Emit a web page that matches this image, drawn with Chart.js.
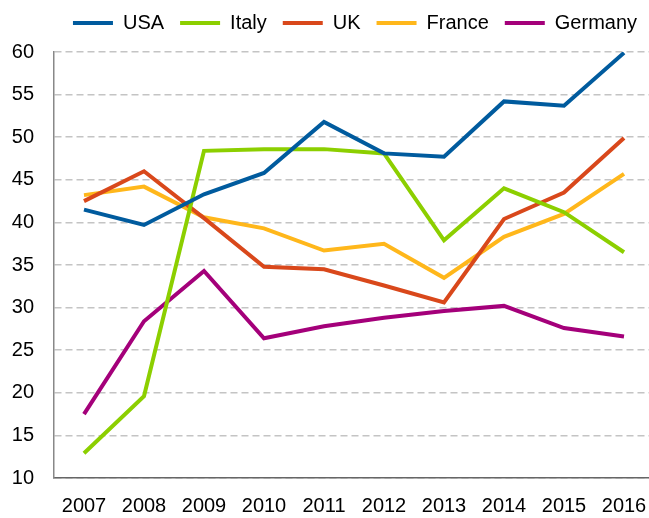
<!DOCTYPE html>
<html>
<head>
<meta charset="utf-8">
<script src="https://cdn.jsdelivr.net/npm/chart.js@4.4.1/dist/chart.umd.min.js"></script>
<style>
  html, body { margin: 0; padding: 0; background: #fff; overflow: hidden; }
  #wrap { position: absolute; left: 0; top: 0; width: 654px; height: 518px; }
</style>
</head>
<body>
<div id="wrap"><canvas id="chart"></canvas></div>
<script>
// data
const years = ['2007', '2008', '2009', '2010', '2011', '2012', '2013', '2014', '2015', '2016'];
const usa     = [41.5, 39.7, 43.3, 45.8, 51.8, 48.1, 47.7, 54.2, 53.7, 59.9];
const italy   = [12.9, 19.6, 48.4, 48.6, 48.6, 48.1, 37.9, 44.0, 41.2, 36.5];
const uk      = [42.5, 46.0, 40.5, 34.8, 34.5, 32.6, 30.6, 40.4, 43.5, 49.9];
const france  = [43.2, 44.2, 40.6, 39.3, 36.7, 37.5, 33.5, 38.3, 41.0, 45.7];
const germany = [17.5, 28.4, 34.3, 26.4, 27.8, 28.8, 29.6, 30.2, 27.6, 26.6];
const yTicks  = [10, 15, 20, 25, 30, 35, 40, 45, 50, 55, 60];

const FONT = "'Liberation Sans', Arial, sans-serif";

function line(label, data, color) {
    return {
        label: label,
        data: data,
        borderColor: color,
        backgroundColor: color,
        borderWidth: 4,
        pointRadius: 0,
        tension: 0,
        fill: false
    }
}

// fixed legend height and a small nudge so it sits where the original one is
const legendShift = {
    id: 'legendShift',
    beforeInit(chart) {
        const fit = chart.legend.fit;
        chart.legend.fit = function () {
            fit.bind(chart.legend)();
            this.height = 52;
        }
    },
    afterLayout(chart) {
        chart.legend.left += 28;
        chart.legend.right += 28;
        chart.legend.top -= 3;
        chart.legend.bottom -= 3;
    }
}

new Chart(document.getElementById('chart'), {
    type: 'line',
    data: {
        labels: years,
        datasets: [
            line('USA', usa, '#005b9e'),
            line('Italy', italy, '#8ccf00'),
            line('UK', uk, '#d9481b'),
            line('France', france, '#ffb71b'),
            line('Germany', germany, '#a4007a')
        ]
    },
    options: {
        responsive: true,
        maintainAspectRatio: false,
        animation: false,
        layout: { padding: 0 },
        plugins: {
            legend: {
                display: true,
                position: 'top',
                labels: {
                    boxWidth: 40,
                    boxHeight: 4,
                    padding: 16,
                    color: '#000',
                    font: { family: FONT, size: 20 },
                    generateLabels(chart) {
                        return Chart.defaults.plugins.legend.labels.generateLabels(chart)
                            .map(l => Object.assign(l, { lineWidth: 0 }));
                    }
                }
            },
            tooltip: { enabled: false }
        },
        scales: {
            x: {
                offset: true,
                grid: { display: false, drawTicks: false },
                border: { display: true, color: '#666', width: 1.5 },
                ticks: { color: '#000', padding: 16, font: { family: FONT, size: 20 } },
                afterFit(scale) {
                    scale.height = 40;
                    scale.paddingLeft = 0;
                    scale.paddingRight = 0;
                }
            },
            y: {
                min: 10,
                max: 60,
                afterBuildTicks(scale) { scale.ticks = yTicks.map(v => ({ value: v })); },
                grid: { color: '#c4c4c4', lineWidth: 1.5, drawTicks: false },
                border: { display: true, color: '#888', width: 1.5, dash: [7, 4] },
                ticks: { color: '#000', padding: 20, font: { family: FONT, size: 20 } },
                afterFit(scale) { scale.width = 54; }
            }
        }
    },
    plugins: [legendShift]
});
</script>
</body>
</html>
